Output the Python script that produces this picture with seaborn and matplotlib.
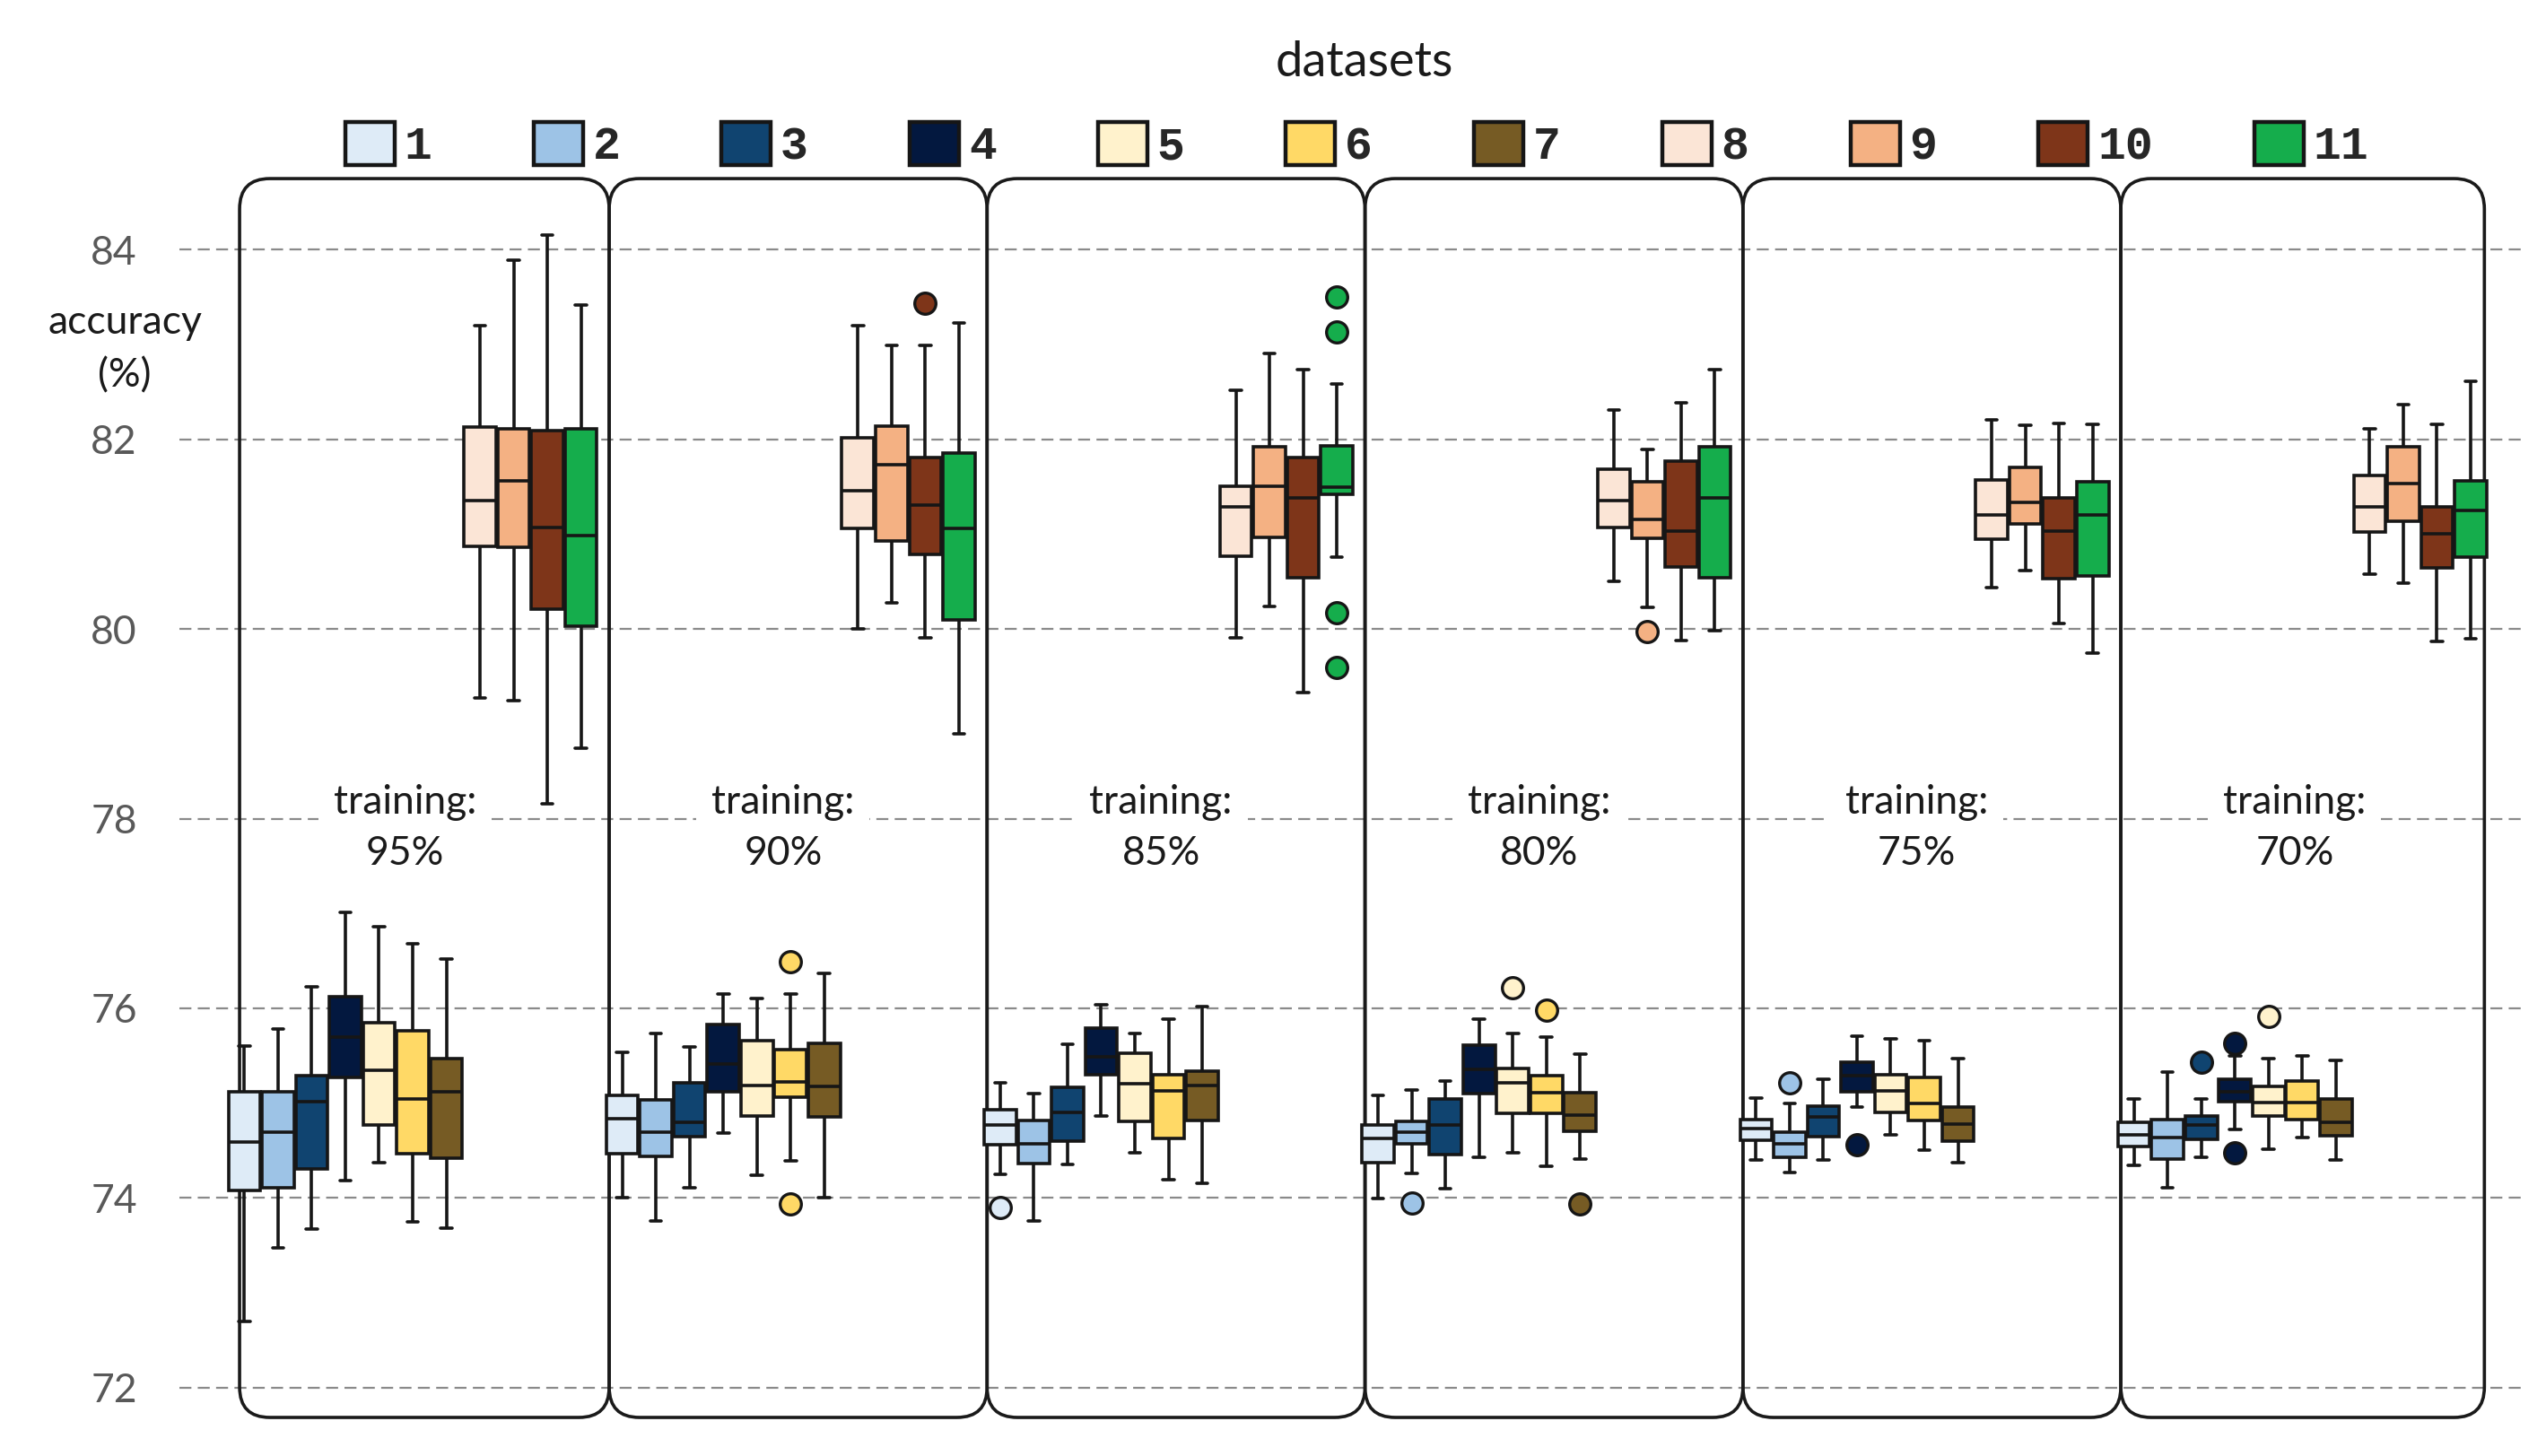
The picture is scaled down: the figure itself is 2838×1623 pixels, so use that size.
import numpy as np
import pandas as pd
import matplotlib
matplotlib.use("Agg")
import matplotlib.pyplot as plt
from matplotlib.patches import FancyBboxPatch, Patch
from matplotlib.font_manager import FontProperties
import seaborn as sns

# ---------------- data ----------------
TRAINING = ["95%", "90%", "85%", "80%", "75%", "70%"]
DATASETS = ["1", "2", "3", "4", "5", "6", "7", "8", "9", "10", "11"]
COLORS = ["#DEEBF7", "#9DC3E6", "#104470", "#03183F", "#FFF2CC", "#FFD966",
          "#765B24", "#FBE5D6", "#F4B183", "#7E3519", "#15AD4C"]

# one row per dataset, one value per training split (95% ... 70%)
WHISKER_LOW = [
    [72.70, 74.00, 74.25, 73.99, 74.40, 74.34],
    [73.47, 73.76, 73.76, 74.26, 74.27, 74.11],
    [73.67, 74.11, 74.35, 74.10, 74.40, 74.43],
    [74.18, 74.68, 74.86, 74.43, 74.96, 74.72],
    [74.37, 74.24, 74.48, 74.48, 74.67, 74.51],
    [73.75, 74.39, 74.19, 74.33, 74.50, 74.64],
    [73.68, 74.00, 74.15, 74.41, 74.37, 74.40],
    [79.27, 80.00, 79.91, 80.50, 80.44, 80.58],
    [79.24, 80.28, 80.24, 80.23, 80.62, 80.48],
    [78.16, 79.91, 79.33, 79.88, 80.06, 79.87],
    [78.74, 78.89, 80.76, 79.98, 79.75, 79.90],
]
Q1 = [
    [74.08, 74.47, 74.56, 74.37, 74.61, 74.54],
    [74.11, 74.44, 74.36, 74.57, 74.43, 74.41],
    [74.31, 74.65, 74.60, 74.46, 74.65, 74.62],
    [75.27, 75.12, 75.30, 75.10, 75.12, 75.02],
    [74.77, 74.86, 74.81, 74.89, 74.90, 74.86],
    [74.47, 75.06, 74.63, 74.89, 74.82, 74.83],
    [74.42, 74.85, 74.82, 74.70, 74.60, 74.66],
    [80.87, 81.06, 80.77, 81.07, 80.95, 81.02],
    [80.86, 80.93, 80.97, 80.96, 81.11, 81.14],
    [80.21, 80.79, 80.54, 80.65, 80.53, 80.64],
    [80.03, 80.10, 81.42, 80.54, 80.56, 80.76],
]
MEDIAN = [
    [74.59, 74.84, 74.77, 74.63, 74.73, 74.67],
    [74.69, 74.69, 74.57, 74.69, 74.57, 74.64],
    [75.02, 74.80, 74.90, 74.77, 74.85, 74.77],
    [75.70, 75.41, 75.49, 75.36, 75.29, 75.12],
    [75.35, 75.19, 75.20, 75.21, 75.13, 75.01],
    [75.04, 75.22, 75.13, 75.11, 75.00, 75.01],
    [75.12, 75.18, 75.19, 74.87, 74.78, 74.80],
    [81.35, 81.46, 81.29, 81.35, 81.20, 81.29],
    [81.56, 81.73, 81.51, 81.16, 81.34, 81.53],
    [81.07, 81.31, 81.38, 81.03, 81.03, 81.00],
    [80.99, 81.06, 81.50, 81.38, 81.20, 81.25],
]
Q3 = [
    [75.12, 75.08, 74.93, 74.77, 74.83, 74.80],
    [75.12, 75.03, 74.82, 74.81, 74.69, 74.83],
    [75.29, 75.21, 75.17, 75.04, 74.97, 74.86],
    [76.12, 75.83, 75.79, 75.61, 75.43, 75.25],
    [75.85, 75.66, 75.53, 75.37, 75.30, 75.18],
    [75.76, 75.56, 75.30, 75.29, 75.27, 75.23],
    [75.47, 75.63, 75.34, 75.11, 74.96, 75.04],
    [82.13, 82.02, 81.51, 81.69, 81.57, 81.62],
    [82.11, 82.14, 81.92, 81.55, 81.70, 81.92],
    [82.09, 81.81, 81.81, 81.77, 81.38, 81.29],
    [82.11, 81.86, 81.93, 81.92, 81.55, 81.56],
]
WHISKER_HIGH = [
    [75.60, 75.54, 75.21, 75.08, 75.05, 75.04],
    [75.78, 75.73, 75.10, 75.14, 75.00, 75.33],
    [76.23, 75.59, 75.62, 75.23, 75.25, 75.04],
    [77.01, 76.15, 76.04, 75.89, 75.71, 75.50],
    [76.86, 76.10, 75.73, 75.73, 75.68, 75.47],
    [76.68, 76.15, 75.89, 75.70, 75.66, 75.50],
    [76.52, 76.37, 76.02, 75.52, 75.47, 75.45],
    [83.20, 83.20, 82.52, 82.31, 82.21, 82.11],
    [83.89, 82.99, 82.91, 81.89, 82.15, 82.37],
    [84.15, 82.99, 82.74, 82.39, 82.17, 82.16],
    [83.42, 83.23, 82.58, 82.74, 82.16, 82.61],
]
# outliers: (training split, dataset, accuracy)
OUTLIERS = [
    ("90%", "6", 76.49), ("90%", "6", 73.94), ("90%", "10", 83.44),
    ("85%", "1", 73.90),
    ("85%", "11", 83.50), ("85%", "11", 83.13), ("85%", "11", 80.17), ("85%", "11", 79.59),
    ("80%", "2", 73.95), ("80%", "5", 76.22), ("80%", "6", 75.98),
    ("80%", "7", 73.94), ("80%", "9", 79.97),
    ("75%", "2", 75.21), ("75%", "4", 74.56),
    ("70%", "3", 75.43), ("70%", "4", 75.63), ("70%", "4", 74.48), ("70%", "5", 75.91),
]


# seaborn draws boxes from observations: encode each read five-number summary
# (plus its outliers) as a small set of observations reproducing those stats
def summary_points(lo, q1, md, q3, hi, outs):
    m = 4
    below = sorted(o for o in outs if o < q1) + [lo]
    below = below + [q1] * (m - len(below))
    above = [hi] + sorted(o for o in outs if o > q3)
    above = [q3] * (m - len(above)) + above
    return below + [q1] + [q1] * (m - 1) + [md] + [q3] * (m - 1) + [q3] + above


rows = []
for di, ds in enumerate(DATASETS):
    for ti, tr in enumerate(TRAINING):
        outs = [v for (t, d, v) in OUTLIERS if t == tr and d == ds]
        pts = summary_points(WHISKER_LOW[di][ti], Q1[di][ti], MEDIAN[di][ti],
                             Q3[di][ti], WHISKER_HIGH[di][ti], outs)
        for v in pts:
            rows.append({"training": tr, "dataset": ds, "accuracy": v})
df = pd.DataFrame(rows)
palette = dict(zip(DATASETS, COLORS))

# ---------------- styling ----------------
sns.set_style("white")
plt.rcParams["font.family"] = ["Lato", "DejaVu Sans"]

W, H, DPI = 2838, 1623, 200
fig = plt.figure(figsize=(W / DPI, H / DPI), dpi=DPI)
ax = fig.add_axes([0.0705, 0.02095, 0.9197, 0.8629])

BOX_WIDTH = 0.98
sns.boxplot(data=df, x="training", y="accuracy", hue="dataset",
            order=TRAINING, hue_order=DATASETS, palette=palette, saturation=1,
            width=BOX_WIDTH, gap=0.05, whis=1.5, linewidth=1.3,
            linecolor="#161616", fliersize=8.5, capwidths=0.03,
            flierprops=dict(marker="o", markeredgewidth=1.2),
            legend=False, ax=ax, zorder=3)

# colour fliers with their box colour
slot = BOX_WIDTH / len(DATASETS)
for ln in ax.lines:
    xd = np.asarray(ln.get_xdata(), dtype=float)
    if ln.get_marker() == "o" and xd.size:
        x0 = xd[0]
        hi_idx = int(round((x0 - round(x0)) / slot)) + len(DATASETS) // 2
        hi_idx = min(max(hi_idx, 0), len(DATASETS) - 1)
        ln.set_markerfacecolor(COLORS[hi_idx])
        ln.set_markeredgecolor("#161616")
        ln.set_zorder(4)

ax.set_xlim(-0.617, 5.579)
ax.set_ylim(71.6, 84.85)
ax.set_yticks([72, 74, 76, 78, 80, 82, 84])
ax.set_xticks([])
ax.set_xlabel("")
ax.set_ylabel("")
for s in ax.spines.values():
    s.set_visible(False)
ax.tick_params(axis="y", length=0, pad=17, labelsize=16, labelcolor="#595959")
ax.yaxis.grid(True, color="#8a8a8a", linewidth=0.8, linestyle=(0, (6, 3.2)))
ax.set_axisbelow(True)

# rounded panels around each training split
edges = [-0.458, 0.52, 1.52, 2.52, 3.52, 4.52, 5.482]
y0, y1 = 71.685, 84.75
for i in range(len(TRAINING)):
    p = FancyBboxPatch((edges[i], y0), edges[i + 1] - edges[i], y1 - y0,
                       boxstyle="round,pad=0,rounding_size=0.08",
                       mutation_aspect=4.0, fill=False, edgecolor="#1a1a1a",
                       linewidth=1.3, zorder=2, clip_on=False)
    ax.add_patch(p)
    ax.text(i - 0.02, 77.90, f"training:\n{TRAINING[i]}", ha="center", va="center",
            fontsize=16, color="#1a1a1a", linespacing=1.5, zorder=5,
            bbox=dict(facecolor="white", edgecolor="none", pad=6))

# titles / labels
fig.text(0.536, 0.957, "datasets", ha="center", va="center", fontsize=19.5,
         color="#1a1a1a")
fig.text(0.049, 0.760, "accuracy\n(%)", ha="center", va="center", fontsize=16,
         color="#1a1a1a", linespacing=1.55)

handles = [Patch(facecolor=c, edgecolor="#161616", linewidth=1.6, label=d)
           for d, c in zip(DATASETS, COLORS)]
fig.legend(handles=handles, ncol=len(DATASETS), loc="center",
           bbox_to_anchor=(0.533, 0.900), frameon=False,
           prop=FontProperties(family=["Liberation Mono", "DejaVu Sans Mono"],
                               size=18.5, weight="bold"),
           handlelength=1.07, handleheight=1.05, handletextpad=0.21,
           columnspacing=2.2, borderpad=0.2)

fig.savefig("out.png", dpi=DPI)
